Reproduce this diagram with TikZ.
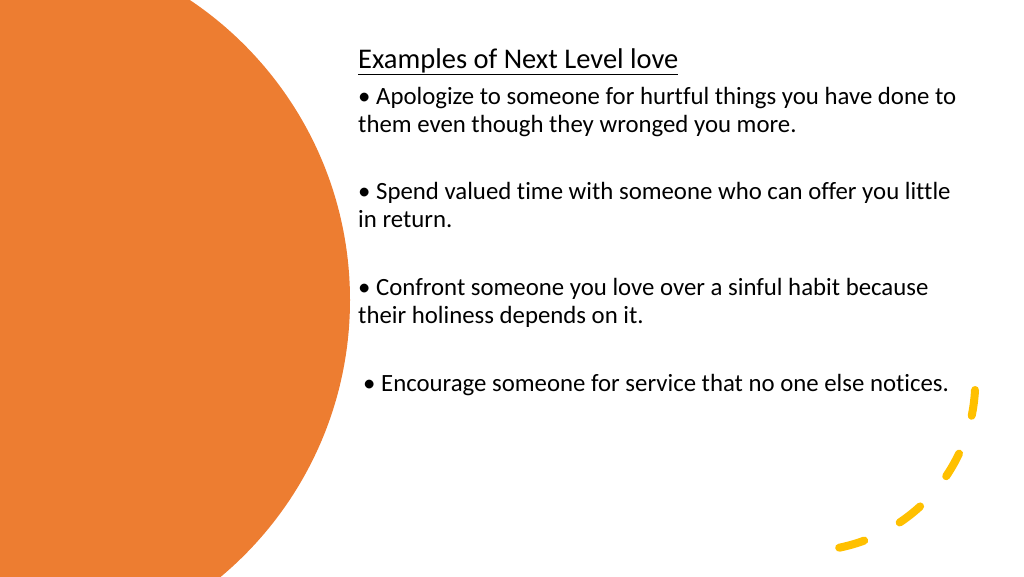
\documentclass[tikz,border=0pt]{standalone}
\usepackage{fontspec}
\setmainfont[Ligatures={NoCommon,NoRare,NoContextual}]{Carlito}
\definecolor{orng}{HTML}{ED7D31}
\definecolor{ylw}{HTML}{FFC000}
\begin{document}
\begin{tikzpicture}[x=1pt,y=-1pt,
  txt/.style={anchor=base west,inner sep=0,font=\fontsize{24.8}{28}\selectfont}]
\useasboundingbox (0,0) rectangle (1024,576);
\begin{scope}
\clip (0,0) rectangle (1024,576);
\fill[orng] (-11,300) circle (361);
\end{scope}
\draw[ylw,line width=8,line cap=round,dash pattern=on 26 off 40] (975,390) arc[start angle=3,end angle=89,radius=170];
\node[txt,font=\fontsize{28.5}{30}\selectfont] (t) at (358,68) {\underline{Examples of Next Level love}};
\node[txt] (a1) at (358,104) {• Apologize to someone for hurtful things you have done to};
\node[txt] (a2) at (358,132) {them even though they wronged you more.};
\node[txt] (b1) at (358,199) {• Spend valued time with someone who can offer you little};
\node[txt] (b2) at (358,227) {in return.};
\node[txt] (c1) at (358,295) {• Confront someone you love over a sinful habit because};
\node[txt] (c2) at (358,323) {their holiness depends on it.};
\node[txt] (d) at (363,391) {• Encourage someone for service that no one else notices.};
\end{tikzpicture}
\end{document}
